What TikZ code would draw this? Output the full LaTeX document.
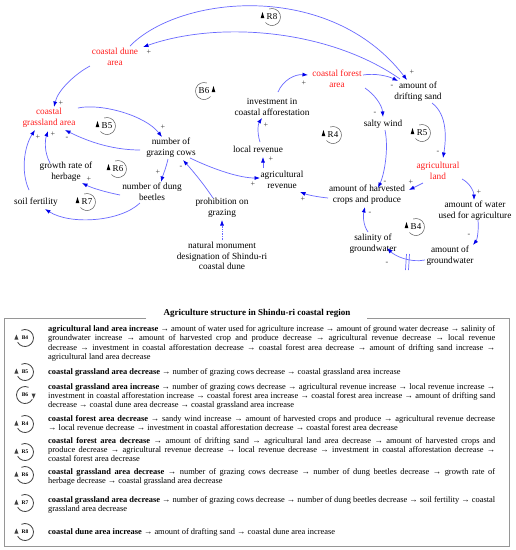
\documentclass[tikz,border=0pt]{standalone}
\usepackage{fontspec}
\setmainfont{Liberation Serif}
\usetikzlibrary{arrows.meta,calc}
\definecolor{lnblue}{RGB}{105,105,255}
\definecolor{tipblue}{RGB}{0,0,235}
\definecolor{varred}{RGB}{255,30,30}
\definecolor{framegray}{RGB}{150,150,150}
\newcommand{\mkloopL}[3]{%
  \node[loopc] (#1) at #2 {#3};
  \draw[looparc] ($(#1)+(110:8.5pt)$) arc[start angle=110, end angle=-140, radius=8.5pt];
  \fill[black] ($(#1)+(-11.3pt,-1pt)$) -- ($(#1)+(-7.7pt,-1pt)$) -- ($(#1)+(-9.5pt,5pt)$) -- cycle;}
\newcommand{\mkloopR}[3]{%
  \node[loopc] (#1) at #2 {#3};
  \draw[looparc] ($(#1)+(70:8.5pt)$) arc[start angle=70, end angle=320, radius=8.5pt];
  \fill[black] ($(#1)+(11.3pt,-1pt)$) -- ($(#1)+(7.7pt,-1pt)$) -- ($(#1)+(9.5pt,5pt)$) -- cycle;}
\newcommand{\mkticon}[3]{%
  \node[ticon] (#1) at (25,#2) {#3};
  \draw[tarc] ($(#1)+(115:8.5pt)$) arc[start angle=115, end angle=-150, radius=8.5pt];
  \fill[black!75] ($(#1)+(-10.6pt,-1.5pt)$) -- ($(#1)+(-6.6pt,-1.5pt)$) -- ($(#1)+(-8.6pt,3.5pt)$) -- cycle;}
\newcommand{\mkticonR}[3]{%
  \node[ticon] (#1) at (25,#2) {#3};
  \draw[tarc] ($(#1)+(65:8.5pt)$) arc[start angle=65, end angle=330, radius=8.5pt];
  \fill[black!75] ($(#1)+(10.6pt,1.5pt)$) -- ($(#1)+(6.6pt,1.5pt)$) -- ($(#1)+(8.6pt,-3.5pt)$) -- cycle;}
\newcommand{\tsp}{\spaceskip=0.22em plus 1em minus 0.12em\relax}
\newcommand{\tabline}[3]{\node[tline] (#1) at (48,#2) {\tsp\makebox[447pt][s]{#3}};}
\newcommand{\tablast}[3]{\node[tline] (#1) at (48,#2) {#3};}
\begin{document}
\begin{tikzpicture}[x=1pt,y=-1pt,
  var/.style={font=\fontsize{9.3}{10.6}\selectfont, align=center, inner sep=0pt, text=black},
  redvar/.style={var, text=varred},
  link/.style={draw=lnblue, line width=0.7pt, -{Latex[length=5.5pt,width=4pt,color=tipblue]}},
  dlink/.style={link, densely dotted},
  sgn/.style={font=\fontsize{8}{8}\selectfont, inner sep=0pt, text=black!80},
  loopc/.style={font=\fontsize{9}{9}\selectfont, inner sep=0pt},
  looparc/.style={draw=black!65, line width=0.5pt},
  ticon/.style={font=\fontsize{5.5}{5.5}\selectfont\bfseries, inner sep=0pt},
  tarc/.style={draw=black!75, line width=0.8pt},
  tline/.style={anchor=west, inner sep=0pt, font=\fontsize{8.4}{9}\selectfont},
  ttitle/.style={font=\fontsize{9}{10}\selectfont\bfseries, inner sep=0pt},
  frame/.style={draw=framegray, line width=1pt}
]
\fill[white] (0,0) rectangle (516,550);
\useasboundingbox (0,0) rectangle (516,550);

% ---------- variables ----------
\node[redvar] (dune) at (115,57) {coastal dune\\area};
\node[redvar] (grass) at (49,118) {coastal\\grassland area};
\node[var] (cows) at (171,148) {number of\\grazing cows};
\node[redvar] (forest) at (337,79) {coastal forest\\area};
\node[var] (sand) at (418,92) {amount of\\drifting sand};
\node[var] (invest) at (272,107) {investment in\\coastal afforestation};
\node[var] (salty) at (383,124) {salty wind};
\node[var] (local) at (258,149) {local revenue};
\node[var] (agrev) at (282,180) {agricultural\\revenue};
\node[var] (crops) at (367,195) {amount of harvested\\crops and produce};
\node[redvar] (agland) at (438,171) {agricultural\\land};
\node[var] (water) at (475,211) {amount of water\\used for agriculture};
\node[var] (salin) at (373,244) {salinity of\\groundwater};
\node[var] (gw) at (450,256) {amount of\\groundwater};
\node[var] (herb) at (66,172) {growth rate of\\herbage};
\node[var] (soil) at (36,202) {soil fertility};
\node[var] (beetles) at (152,192) {number of dung\\beetles};
\node[var] (prohib) at (222,208) {prohibition on\\grazing};
\node[var] (monument) at (222,256) {natural monument\\designation of Shindu-ri\\coastal dune};

% ---------- links ----------
\draw[link] ($(dune)+(15,-11)$) .. controls (180,-5) and (330,-20) .. ($(sand)+(-11,-12)$);
\draw[link] ($(sand)+(-18,-13)$) .. controls (330,30) and (220,20) .. ($(dune)+(28,-10)$);
\draw[link] ($(forest)+(26,-4)$) .. controls (375,73) and (388,76) .. ($(sand)+(-20,-11)$);
\draw[link] ($(dune)+(-25,9)$) .. controls (75,74) and (58,90) .. ($(grass)+(5,-11)$);
\draw[link] ($(grass)+(29,-10)$) .. controls (100,103) and (145,115) .. ($(cows)+(-9,-11)$);
\draw[link] ($(cows)+(-31,2)$) .. controls (110,150) and (85,140) .. ($(grass)+(16,12)$);
\draw[link] ($(herb)+(-16,-9)$) .. controls (44,152) and (45,140) .. ($(grass)+(-1,13)$);
\draw[link] ($(soil)+(-7,-12)$) .. controls (20,170) and (25,145) .. ($(grass)+(-14,12)$);
\draw[link] ($(beetles)+(-32,3)$) .. controls (105,192) and (92,188) .. ($(herb)+(16,11)$);
\draw[link] ($(beetles)+(-12,11)$) .. controls (120,222) and (70,225) .. ($(soil)+(9,7)$);
\draw[link] ($(cows)+(-3,11)$) .. controls (166,168) and (163,175) .. ($(beetles)+(9,-10)$);
\draw[link] ($(prohib)+(-9,-10)$) .. controls (203,183) and (192,170) .. ($(cows)+(12,12)$);
\draw[dlink] ($(monument)+(0,-16)$) -- ($(prohib)+(0,12)$);
\draw[link] ($(cows)+(19,10)$) .. controls (215,170) and (240,178) .. ($(agrev)+(-22,-2)$);
\draw[link] ($(agrev)+(-19,-12)$) -- ($(local)+(5,8)$);
\draw[link] ($(local)+(2,-7)$) .. controls (257,133) and (258,124) .. ($(invest)+(-10,11)$);
\draw[link] ($(invest)+(6,-15)$) .. controls (283,80) and (295,74) .. ($(forest)+(-29,-4)$);
\draw[link] ($(forest)+(28,9)$) .. controls (375,95) and (382,105) .. ($(salty)+(0,-7)$);
\draw[link] ($(salty)+(2,6)$) .. controls (389,150) and (384,175) .. ($(crops)+(11,-7)$);
\draw[link] ($(sand)+(14,11)$) .. controls (448,115) and (446,140) .. ($(agland)+(5,-13)$);
\draw[link] ($(agland)+(-15,12)$) -- ($(crops)+(42,-5)$);
\draw[link] ($(crops)+(-39,3)$) .. controls (318,197) and (308,195) .. ($(agrev)+(18,12)$);
\draw[link] ($(agland)+(24,8)$) .. controls (470,183) and (474,192) .. ($(water)+(-1,-11)$);
\draw[link] ($(water)+(3,9)$) .. controls (479,230) and (477,240) .. ($(gw)+(23,-11)$);
\draw[link] ($(gw)+(-25,4)$) .. controls (410,263) and (395,256) .. ($(salin)+(14,4)$);
\draw[link] ($(salin)+(-5,-12)$) .. controls (363,225) and (363,215) .. ($(crops)+(-2,12)$);
% delay marks
\draw[draw=lnblue, line width=0.7pt] (406.5,254) -- (405.5,270) (409.5,254) -- (408.5,270);

% ---------- polarity signs ----------
\node[sgn] (s1) at (412,72) {+};
\node[sgn] (s2) at (149,52) {+};
\node[sgn] (s3) at (392,86) {-};
\node[sgn] (s4) at (61,103) {+};
\node[sgn] (s5) at (163,127) {+};
\node[sgn] (s6) at (67,138) {-};
\node[sgn] (s7) at (53,134) {+};
\node[sgn] (s8) at (38,137) {+};
\node[sgn] (s9) at (89,179) {+};
\node[sgn] (s11) at (158,172) {+};
\node[sgn] (s12) at (181,167) {-};
\node[sgn] (s14) at (253,184) {+};
\node[sgn] (s15) at (271,159) {+};
\node[sgn] (s16) at (266,125) {+};
\node[sgn] (s17) at (304,83) {+};
\node[sgn] (s18) at (375,113) {-};
\node[sgn] (s19) at (385,182) {-};
\node[sgn] (s20) at (438,152) {-};
\node[sgn] (s21) at (411,182) {+};
\node[sgn] (s22) at (303,199) {+};
\node[sgn] (s23) at (479,192) {+};
\node[sgn] (s24) at (469,235) {-};
\node[sgn] (s25) at (387,263) {-};
\node[sgn] (s26) at (370,213) {-};

% ---------- loop markers ----------
\mkloopL{lR8}{(272,17)}{R8}
\mkloopL{lB5}{(107,126)}{B5}
\mkloopR{lB6}{(204,91)}{B6}
\mkloopL{lR4}{(333,135)}{R4}
\mkloopL{lR5}{(422,133)}{R5}
\mkloopL{lB4}{(416,227)}{B4}
\mkloopL{lR6}{(118,169)}{R6}
\mkloopL{lR7}{(87,202)}{R7}

% ---------- table ----------
\node[ttitle] (title) at (257,313) {Agriculture structure in Shindu-ri coastal region};
\draw[frame] (146,318) -- (4,318) -- (4,546) -- (509,546) -- (509,318) -- (367,318);

\mkticon{iB4}{338}{B4}
\tabline{b4a}{329}{\textbf{agricultural land area increase} → amount of water used for agriculture increase → amount of ground water decrease → salinity of}
\tabline{b4b}{338.5}{groundwater increase → amount of harvested crop and produce decrease → agricultural revenue decrease → local revenue}
\tabline{b4c}{348}{decrease → investment in coastal afforestation decrease → coastal forest area decrease → amount of drifting sand increase →}
\tablast{b4d}{357.5}{agricultural land area decrease}

\mkticon{iB5}{372}{B5}
\tablast{b5a}{372}{\textbf{coastal grassland area decrease} → number of grazing cows decrease → coastal grassland area increase}

\mkticonR{iB6}{395}{B6}
\tabline{b6a}{387}{\textbf{coastal grassland area increase} → number of grazing cows decrease → agricultural revenue increase → local revenue increase →}
\tabline{b6b}{396}{investment in coastal afforestation increase → coastal forest area increase → coastal forest area increase → amount of drifting sand}
\tablast{b6c}{405}{decrease → coastal dune area decrease → coastal grassland area increase}

\mkticon{iR4}{424}{R4}
\tabline{r4a}{419}{\textbf{coastal forest area decrease} → sandy wind increase → amount of harvested crops and produce → agricultural revenue decrease}
\tablast{r4b}{428}{→ local revenue decrease → investment in coastal afforestation decrease → coastal forest area decrease}

\mkticon{iR5}{452}{R5}
\tabline{r5a}{441}{\textbf{coastal forest area decrease} → amount of drifting sand → agricultural land area decrease → amount of harvested crops and}
\tabline{r5b}{450}{produce decrease → agricultural revenue decrease → local revenue decrease → investment in coastal afforestation decrease →}
\tablast{r5c}{459}{coastal forest area decrease}

\mkticon{iR6}{475}{R6}
\tabline{r6a}{472}{\textbf{coastal grassland area decrease} → number of grazing cows decrease → number of dung beetles decrease → growth rate of}
\tablast{r6b}{481.5}{herbage decrease → coastal grassland area decrease}

\mkticon{iR7}{503}{R7}
\tabline{r7a}{500}{\textbf{coastal grassland area decrease} → number of grazing cows decrease → number of dung beetles decrease → soil fertility → coastal}
\tablast{r7b}{509.5}{grassland area decrease}

\mkticon{iR8}{532}{R8}
\tablast{r8a}{532}{\textbf{coastal dune area increase} → amount of drafting sand → coastal dune area increase}
\end{tikzpicture}
\end{document}
